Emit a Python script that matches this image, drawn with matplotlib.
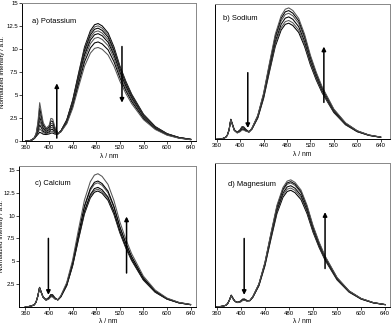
import matplotlib
matplotlib.use("Agg")
import matplotlib.pyplot as plt

plt.rcParams['font.family'] = ['Liberation Sans', 'DejaVu Sans']

# wavelength grid (nm)
wl = [360, 365, 370, 375, 378, 381, 384, 387, 390, 395, 400, 403, 406, 410, 415, 420, 430, 440,
      450, 460, 470, 477, 483, 490, 500, 510, 520, 530, 540, 560, 580, 600, 620, 640]

# a) Potassium
k1 = [0, 0.02, 0.11, 0.30, 0.53, 0.75, 0.98, 0.89, 0.77, 0.73, 0.80, 0.89, 0.90, 0.78, 0.78, 1.12, 2.35, 4.50,
      7.42, 10.24, 12.03, 12.67, 12.80, 12.54, 11.78, 10.24, 8.19, 6.53, 5.12, 2.94, 1.60, 0.83, 0.42, 0.22]
k2 = [0, 0.02, 0.11, 0.31, 0.57, 0.91, 1.37, 1.16, 0.93, 0.82, 0.91, 1.09, 1.09, 0.87, 0.80, 1.12, 2.31, 4.41,
      7.28, 10.04, 11.80, 12.43, 12.55, 12.30, 11.55, 10.04, 8.03, 6.40, 5.02, 2.89, 1.57, 0.82, 0.41, 0.21]
k3 = [0, 0.02, 0.12, 0.32, 0.61, 1.09, 1.79, 1.45, 1.09, 0.91, 1.03, 1.30, 1.29, 0.97, 0.82, 1.11, 2.27, 4.33,
      7.14, 9.84, 11.56, 12.18, 12.30, 12.05, 11.32, 9.84, 7.87, 6.27, 4.92, 2.83, 1.54, 0.80, 0.41, 0.21]
k4 = [0, 0.02, 0.12, 0.34, 0.66, 1.26, 2.21, 1.74, 1.25, 1.00, 1.15, 1.51, 1.48, 1.06, 0.84, 1.10, 2.22, 4.22,
      6.96, 9.60, 11.28, 11.88, 12.00, 11.76, 11.04, 9.60, 7.68, 6.12, 4.80, 2.76, 1.50, 0.78, 0.40, 0.20]
k5 = [0, 0.03, 0.12, 0.35, 0.70, 1.45, 2.66, 2.05, 1.43, 1.10, 1.28, 1.73, 1.70, 1.17, 0.86, 1.09, 2.17, 4.12,
      6.79, 9.36, 11.00, 11.58, 11.70, 11.47, 10.76, 9.36, 7.49, 5.97, 4.68, 2.69, 1.46, 0.76, 0.39, 0.20]
k6 = [0, 0.03, 0.13, 0.36, 0.75, 1.63, 3.11, 2.36, 1.60, 1.20, 1.41, 1.95, 1.91, 1.27, 0.87, 1.07, 2.10, 3.98,
      6.56, 9.04, 10.62, 11.19, 11.30, 11.07, 10.40, 9.04, 7.23, 5.76, 4.52, 2.60, 1.41, 0.74, 0.37, 0.19]
k7 = [0, 0.03, 0.13, 0.38, 0.80, 1.84, 3.62, 2.71, 1.80, 1.32, 1.56, 2.21, 2.15, 1.38, 0.89, 1.05, 2.02, 3.81,
      6.27, 8.64, 10.15, 10.69, 10.80, 10.58, 9.94, 8.64, 6.91, 5.51, 4.32, 2.48, 1.35, 0.70, 0.36, 0.18]
k8 = [0, 0.03, 0.14, 0.39, 0.86, 2.08, 4.20, 3.11, 2.02, 1.44, 1.72, 2.49, 2.42, 1.51, 0.91, 1.02, 1.92, 3.60,
      5.93, 8.16, 9.59, 10.10, 10.20, 10.00, 9.38, 8.16, 6.53, 5.20, 4.08, 2.35, 1.28, 0.66, 0.34, 0.17]

# b) Sodium
na1 = [0, 0.01, 0.08, 0.21, 0.46, 1.05, 2.23, 1.64, 1.06, 0.78, 1.07, 1.40, 1.38, 1.09, 0.83, 1.11, 2.35, 4.53,
       7.48, 10.32, 12.13, 12.77, 12.90, 12.64, 11.87, 10.32, 8.26, 6.58, 5.16, 2.97, 1.61, 0.84, 0.43, 0.22]
na2 = [0, 0.01, 0.08, 0.21, 0.45, 1.05, 2.21, 1.63, 1.04, 0.77, 1.02, 1.32, 1.31, 1.05, 0.82, 1.13, 2.40, 4.63,
       7.66, 10.56, 12.41, 13.07, 13.20, 12.94, 12.14, 10.56, 8.45, 6.73, 5.28, 3.04, 1.65, 0.86, 0.44, 0.22]
na3 = [0, 0.01, 0.08, 0.21, 0.45, 1.04, 2.20, 1.61, 1.02, 0.75, 0.98, 1.25, 1.24, 1.01, 0.82, 1.16, 2.47, 4.77,
       7.89, 10.88, 12.78, 13.46, 13.60, 13.33, 12.51, 10.88, 8.70, 6.94, 5.44, 3.13, 1.70, 0.88, 0.45, 0.23]
na4 = [0, 0.01, 0.08, 0.21, 0.45, 1.03, 2.18, 1.59, 1.01, 0.74, 0.94, 1.18, 1.17, 0.97, 0.82, 1.18, 2.54, 4.91,
       8.12, 11.20, 13.16, 13.86, 14.00, 13.72, 12.88, 11.20, 8.96, 7.14, 5.60, 3.22, 1.75, 0.91, 0.46, 0.24]
na5 = [0, 0.01, 0.08, 0.21, 0.44, 1.02, 2.16, 1.58, 0.99, 0.72, 0.89, 1.10, 1.10, 0.93, 0.81, 1.20, 2.60, 5.02,
       8.29, 11.44, 13.44, 14.16, 14.30, 14.01, 13.16, 11.44, 9.15, 7.29, 5.72, 3.29, 1.79, 0.93, 0.47, 0.24]
na6 = [0, 0.01, 0.08, 0.21, 0.44, 1.02, 2.15, 1.56, 0.98, 0.70, 0.85, 1.03, 1.02, 0.89, 0.81, 1.22, 2.65, 5.12,
       8.47, 11.68, 13.72, 14.45, 14.60, 14.31, 13.43, 11.68, 9.34, 7.45, 5.84, 3.36, 1.83, 0.95, 0.48, 0.25]

# c) Calcium
ca1 = [0, 0.01, 0.08, 0.21, 0.50, 1.15, 2.13, 1.59, 1.07, 0.78, 1.02, 1.34, 1.33, 0.98, 0.75, 1.07, 2.30, 4.45,
       7.37, 10.16, 11.94, 12.57, 12.70, 12.45, 11.68, 10.16, 8.13, 6.48, 5.08, 2.92, 1.59, 0.83, 0.42, 0.22]
ca2 = [0, 0.01, 0.08, 0.21, 0.49, 1.15, 2.11, 1.58, 1.06, 0.77, 0.99, 1.30, 1.29, 0.96, 0.75, 1.08, 2.33, 4.52,
       7.48, 10.32, 12.13, 12.77, 12.90, 12.64, 11.87, 10.32, 8.26, 6.58, 5.16, 2.97, 1.61, 0.84, 0.43, 0.22]
ca3 = [0, 0.01, 0.08, 0.21, 0.49, 1.14, 2.10, 1.56, 1.06, 0.75, 0.96, 1.26, 1.25, 0.93, 0.75, 1.09, 2.37, 4.59,
       7.60, 10.48, 12.31, 12.97, 13.10, 12.84, 12.05, 10.48, 8.38, 6.68, 5.24, 3.01, 1.64, 0.85, 0.43, 0.22]
ca4 = [0, 0.01, 0.08, 0.21, 0.49, 1.13, 2.08, 1.55, 1.04, 0.74, 0.92, 1.19, 1.18, 0.90, 0.75, 1.13, 2.46, 4.76,
       7.89, 10.88, 12.78, 13.46, 13.60, 13.33, 12.51, 10.88, 8.70, 6.94, 5.44, 3.13, 1.70, 0.88, 0.45, 0.23]
ca5 = [0, 0.01, 0.08, 0.21, 0.49, 1.13, 2.07, 1.53, 1.04, 0.72, 0.90, 1.15, 1.14, 0.87, 0.75, 1.14, 2.49, 4.83,
       8.00, 11.04, 12.97, 13.66, 13.80, 13.52, 12.70, 11.04, 8.83, 7.04, 5.52, 3.17, 1.73, 0.90, 0.46, 0.24]
ca6 = [0, 0.01, 0.08, 0.21, 0.49, 1.12, 2.05, 1.51, 1.03, 0.70, 0.85, 1.08, 1.07, 0.84, 0.76, 1.20, 2.64, 5.11,
       8.47, 11.68, 13.72, 14.45, 14.60, 14.31, 13.43, 11.68, 9.34, 7.45, 5.84, 3.36, 1.83, 0.95, 0.48, 0.25]

# d) Magnesium
mg1 = [0, 0.01, 0.06, 0.15, 0.34, 0.75, 1.28, 0.92, 0.61, 0.48, 0.64, 0.84, 0.85, 0.68, 0.66, 1.04, 2.30, 4.48,
       7.42, 10.24, 12.03, 12.67, 12.80, 12.54, 11.78, 10.24, 8.19, 6.53, 5.12, 2.94, 1.60, 0.83, 0.42, 0.22]
mg2 = [0, 0.01, 0.06, 0.15, 0.34, 0.74, 1.26, 0.91, 0.61, 0.47, 0.62, 0.81, 0.82, 0.67, 0.66, 1.06, 2.35, 4.57,
       7.57, 10.44, 12.27, 12.92, 13.05, 12.79, 12.01, 10.44, 8.35, 6.66, 5.22, 3.00, 1.63, 0.85, 0.43, 0.22]
mg3 = [0, 0.01, 0.06, 0.15, 0.34, 0.74, 1.24, 0.89, 0.60, 0.47, 0.60, 0.78, 0.80, 0.66, 0.67, 1.08, 2.39, 4.66,
       7.71, 10.64, 12.50, 13.17, 13.30, 13.03, 12.24, 10.64, 8.51, 6.78, 5.32, 3.06, 1.66, 0.87, 0.44, 0.23]
mg4 = [0, 0.01, 0.06, 0.15, 0.34, 0.73, 1.22, 0.88, 0.58, 0.46, 0.57, 0.74, 0.76, 0.64, 0.67, 1.10, 2.45, 4.76,
       7.89, 10.88, 12.78, 13.46, 13.60, 13.33, 12.51, 10.88, 8.70, 6.94, 5.44, 3.13, 1.70, 0.88, 0.45, 0.23]
mg5 = [0, 0.01, 0.06, 0.16, 0.34, 0.72, 1.21, 0.87, 0.58, 0.45, 0.56, 0.72, 0.74, 0.63, 0.68, 1.11, 2.48, 4.81,
       7.98, 11.00, 12.93, 13.61, 13.75, 13.48, 12.65, 11.00, 8.80, 7.01, 5.50, 3.16, 1.72, 0.89, 0.45, 0.23]
mg6 = [0, 0.01, 0.06, 0.16, 0.33, 0.71, 1.19, 0.85, 0.57, 0.45, 0.54, 0.69, 0.71, 0.62, 0.68, 1.13, 2.51, 4.88,
       8.09, 11.16, 13.11, 13.81, 13.95, 13.67, 12.83, 11.16, 8.93, 7.12, 5.58, 3.21, 1.74, 0.91, 0.46, 0.24]

xticks = [360, 400, 440, 480, 520, 560, 600, 640]

fig = plt.figure(figsize=(3.92, 3.24), dpi=100)

panels = [
    # rect, series, title, xlim, ylim, yticks, title pos, arrows (x, y_from, y_to), ylabel x
    ([0.0561, 0.5639, 0.4439, 0.4259], [k1, k2, k3, k4, k5, k6, k7, k8], "a) Potassium",
     (354, 649), (0, 15), [0, 2.5, 5, 7.5, 10, 12.5, 15], (0.056, 0.867),
     [(413, 0.35, 6.3), (523.5, 10.3, 4.2)], -0.095),
    ([0.5485, 0.5701, 0.4464, 0.4167], [na1, na2, na3, na4, na5, na6], "b) Sodium",
     (357, 656), (0, 15), None, (0.046, 0.897),
     [(413, 7.4, 1.25), (543, 4.1, 10.3)], None),
    ([0.0497, 0.0534, 0.4515, 0.4343], [ca1, ca2, ca3, ca4, ca5, ca6], "c) Calcium",
     (350, 650), (0, 15.45), [2.5, 5, 7.5, 10, 12.5, 15], (0.088, 0.879),
     [(399, 7.5, 1.3), (531.5, 3.7, 9.9)], -0.085),
    ([0.5485, 0.0534, 0.4464, 0.4435], [mg1, mg2, mg3, mg4, mg5, mg6], "d) Magnesium",
     (357, 648), (0, 15.8), None, (0.074, 0.847),
     [(405.5, 7.5, 1.3), (540, 4.2, 10.4)], None),
]

for rect, series, title, xlim, ylim, yticks, tpos, arrows, ylx in panels:
    ax = fig.add_axes(rect)
    for i, s in enumerate(series):
        ax.plot(wl, s, color='black' if i % 2 == 0 else '#555555', lw=0.75)
    ax.set_xlim(*xlim)
    ax.set_ylim(*ylim)
    ax.set_xticks(xticks)
    ax.set_xticklabels([str(t) for t in xticks], fontsize=4.3)
    if yticks is None:
        ax.set_yticks([])
    else:
        ax.set_yticks(yticks)
        ax.set_yticklabels(['%g' % t for t in yticks], fontsize=4.3)
        ax.set_ylabel('Normalized Intensity / a.u.', fontsize=4.5)
        ax.yaxis.set_label_coords(ylx, 0.5)
    ax.set_xlabel('λ / nm', fontsize=4.8, labelpad=1.5)
    ax.tick_params(direction='out', length=2, width=0.5, pad=1)
    for side in ['top', 'right']:
        ax.spines[side].set_color('#888888')
    for side in ['left', 'bottom']:
        ax.spines[side].set_color('black')
    for sp in ax.spines.values():
        sp.set_linewidth(0.7)
    ax.text(tpos[0], tpos[1], title, transform=ax.transAxes, fontsize=5.4, va='center', ha='left')
    for x, y0, y1 in arrows:
        ax.annotate('', xy=(x, y1), xytext=(x, y0),
                    arrowprops=dict(arrowstyle='-|>', color='black', lw=1.1,
                                    mutation_scale=6, shrinkA=0, shrinkB=0))

fig.savefig('out.png', dpi=100)
